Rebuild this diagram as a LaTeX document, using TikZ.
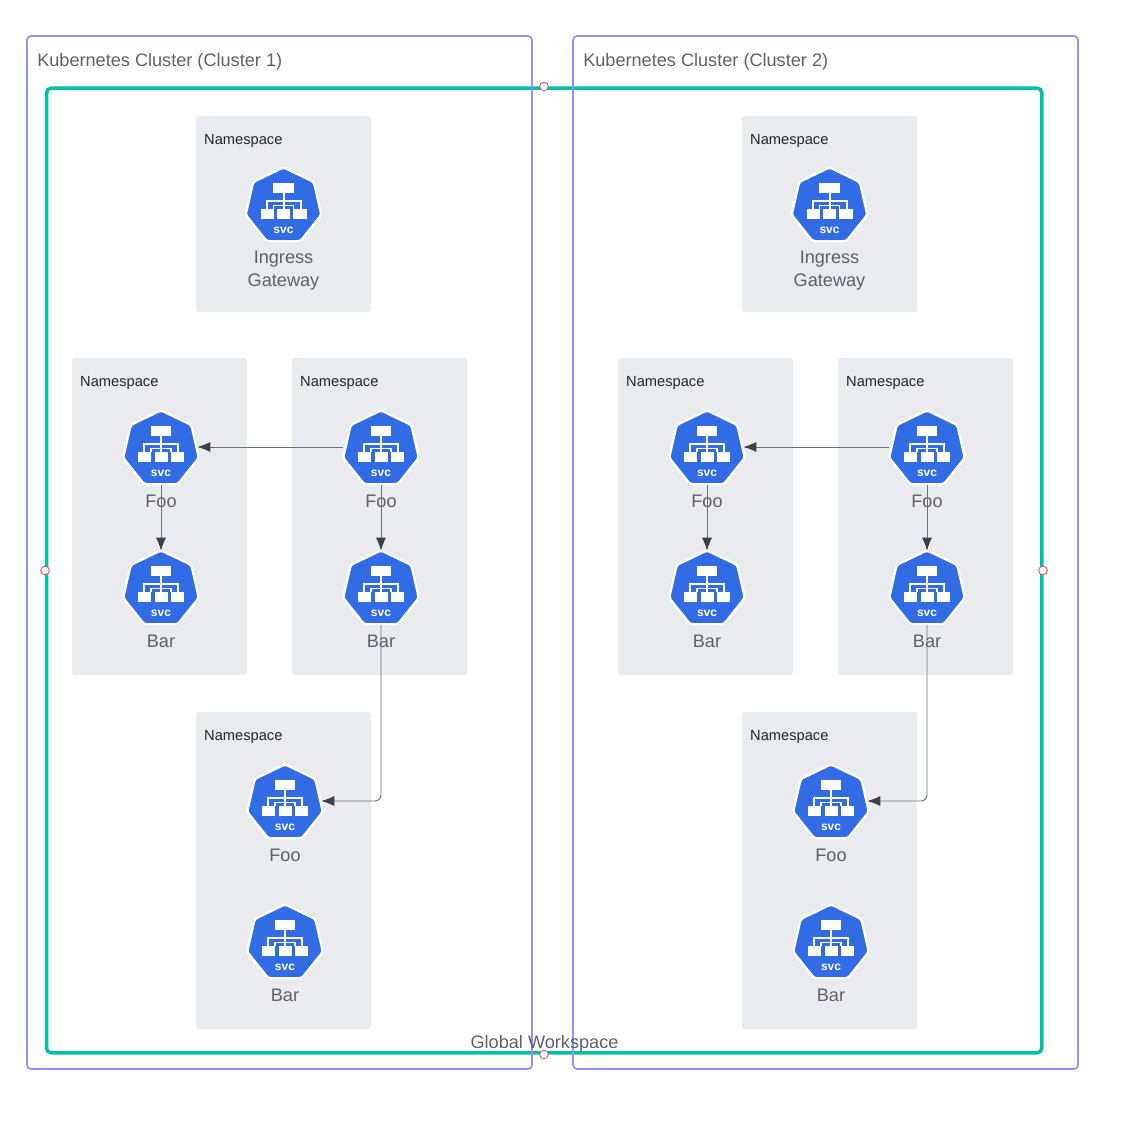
\documentclass[tikz,border=0pt]{standalone}
\usepackage{fontspec}
\setmainfont{Liberation Sans}
\usetikzlibrary{arrows.meta,shapes.geometric,positioning,calc}
\definecolor{clusterLine}{HTML}{9391FF}
\definecolor{globalLine}{HTML}{00C2A8}
\definecolor{nsFill}{HTML}{E9EBEF}
\definecolor{svcBlue}{HTML}{326CE5}
\definecolor{labelText}{HTML}{5E6168}
\definecolor{arrowLine}{HTML}{6B7078}
\definecolor{arrowHead}{HTML}{3A414A}
\definecolor{handleRed}{HTML}{E8596C}

% svc icon: bounding node (#1) at #2 with its label below
\newcommand{\svcIcon}[3]{
	\node [iconBox] (#1) at (#2) {};
	\node [iconHept] (#1Hept) at ($(#1.center)+(0,2.2)$) {};
	\fill [white] ($(#1)+(-10.3,-21)$) rectangle ($(#1)+(10.3,-11.3)$);
	\fill [white] ($(#1)+(-23,5.3)$) rectangle ($(#1)+(-9.7,15)$);
	\fill [white] ($(#1)+(-6.5,5.3)$) rectangle ($(#1)+(6.5,15)$);
	\fill [white] ($(#1)+(9.7,5.3)$) rectangle ($(#1)+(23,15)$);
	\draw [white, line width=1.5pt] ($(#1)+(0,-11.3)$) -- ($(#1)+(0,5.3)$);
	\draw [white, line width=1.5pt] ($(#1)+(-17,5.3)$) |- ($(#1)+(17,-3)$) -- ($(#1)+(17,5.3)$);
	\draw [white, line width=.9pt] ($(#1)+(-10,5.3)$) |- ($(#1)+(10,1.5)$) -- ($(#1)+(10,5.3)$);
	\node [svcText] (#1Svc) at ($(#1)+(0,26.5)$) {svc};
	\node [iconLabel] (#1Label) at ($(#1)+(0,54)$) {#3};
}

% one cluster worth of namespaces, shifted by #1
\newcommand{\clusterBody}[2]{
	\begin{scope}[shift={(#1,0)}]
	\node [nsBox, minimum height=147pt] (nsTop#2) at (283.5,214) {};
	\node [nsBox, minimum height=237.75pt] (nsLeft#2) at (159.5,516.5) {};
	\node [nsBox, minimum height=237.75pt] (nsRight#2) at (379.5,516.5) {};
	\node [nsBox, minimum height=237.75pt] (nsLow#2) at (283.5,870.5) {};
	\node [nsLabel] (nsTopLabel#2) at (243.3,141) {Namespace};
	\node [nsLabel] (nsLeftLabel#2) at (119.3,383) {Namespace};
	\node [nsLabel] (nsRightLabel#2) at (339.3,383) {Namespace};
	\node [nsLabel] (nsLowLabel#2) at (243.3,737) {Namespace};
	\svcIcon{ingress#2}{283.5,204}{}
	\node [iconLabel, align=center] (ingressText#2) at (283.5,270.5) {Ingress\\[1.2pt]Gateway};
	\svcIcon{leftFoo#2}{161,447}{Foo}
	\svcIcon{leftBar#2}{161,587}{Bar}
	\svcIcon{rightFoo#2}{381,447}{Foo}
	\svcIcon{rightBar#2}{381,587}{Bar}
	\svcIcon{lowFoo#2}{285,801}{Foo}
	\svcIcon{lowBar#2}{285,941}{Bar}
	\path [line] (rightFoo#2.west) -- (leftFoo#2.east);
	\path [line] (leftFoo#2.south) -- (leftBar#2.north);
	\path [line] (rightFoo#2.south) -- (rightBar#2.north);
	\path [line, rounded corners=4.5pt] (rightBar#2.south) |- (lowFoo#2.east);
	\end{scope}
}

\begin{document}
\begin{tikzpicture}[x=.75pt, y=-.75pt]
	\tikzstyle{cluster} = [rectangle, draw=clusterLine, line width=1.25pt, rounded corners=3pt, minimum width=378.75pt, minimum height=774.75pt, inner sep=0pt]
	\tikzstyle{global} = [rectangle, draw=globalLine, line width=2.6pt, rounded corners=3.5pt, minimum width=746.5pt, minimum height=723.5pt, inner sep=0pt]
	\tikzstyle{nsBox} = [rectangle, fill=nsFill, rounded corners=2pt, minimum width=131.25pt, inner sep=0pt]
	\tikzstyle{nsLabel} = [text=black!85, font=\fontsize{11}{13}\selectfont, inner sep=0pt]
	\tikzstyle{clusterLabel} = [text=labelText, font=\fontsize{13.6}{16}\selectfont, inner sep=0pt]
	\tikzstyle{iconLabel} = [text=labelText, font=\fontsize{13.6}{16.5}\selectfont, inner sep=0pt]
	\tikzstyle{iconBox} = [rectangle, minimum size=56pt, inner sep=0pt]
	\tikzstyle{iconHept} = [regular polygon, regular polygon sides=7, minimum size=58.2pt, inner sep=0pt, fill=svcBlue, draw=white, line width=1.7pt, rounded corners=2pt]
	\tikzstyle{svcText} = [text=white, font=\fontsize{9}{10}\bfseries\selectfont, inner sep=0pt]
	\tikzstyle{line} = [draw=arrowLine, line width=.7pt, shorten >=-1pt, -{Latex[length=9.75pt,width=7.5pt,color=arrowHead]}]
	\tikzstyle{handle} = [circle, draw=handleRed, fill=white, line width=.7pt, minimum size=6.5pt, inner sep=0pt]

	\useasboundingbox (0,0) rectangle (1123,1123);
	\node [global] (workspace) at (544.2,570.5) {};
	\clusterBody{0}{A}
	\clusterBody{546}{B}
	\node [cluster] (clusterA) at (279.5,552.5) {};
	\node [cluster] (clusterB) at (825.5,552.5) {};
	\node [clusterLabel, anchor=west] (clusterAText) at (37,62) {Kubernetes Cluster (Cluster 1)};
	\node [clusterLabel, anchor=west] (clusterBText) at (583,62) {Kubernetes Cluster (Cluster 2)};
	\node [iconLabel] (workspaceText) at (544.5,1044) {Global Workspace};
	\node [handle] (handleTop) at (544,86.5) {};
	\node [handle] (handleBottom) at (544,1054.5) {};
	\node [handle] (handleLeft) at (45,570.5) {};
	\node [handle] (handleRight) at (1043,570.5) {};
\end{tikzpicture}
\end{document}
